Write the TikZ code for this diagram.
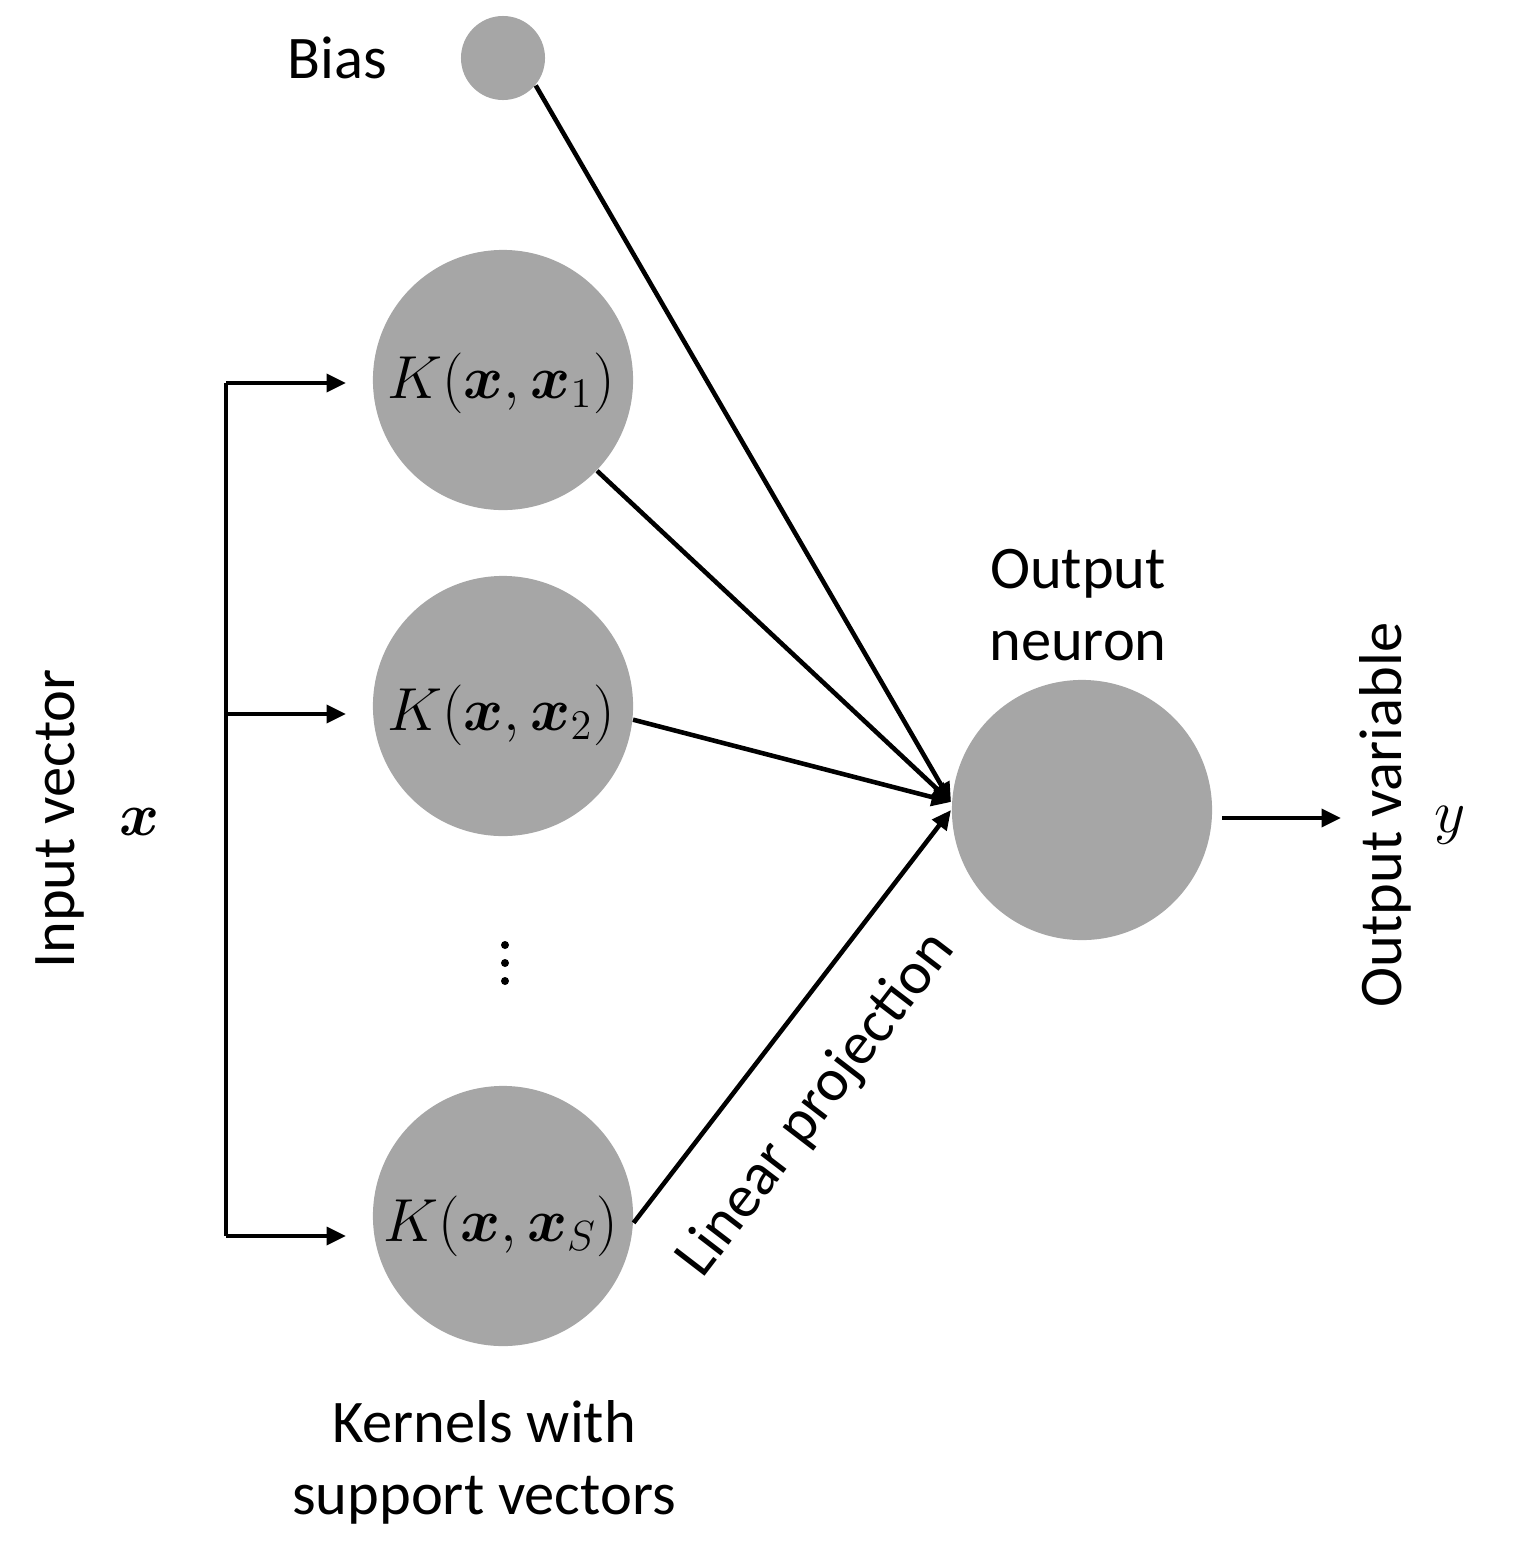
\documentclass[tikz,border=0pt]{standalone}
\usepackage{amsmath,bm}
\usepackage{fontspec}
\setmainfont{Carlito}
\usetikzlibrary{arrows.meta}
\definecolor{nodegray}{HTML}{A6A6A6}
\begin{document}
\begin{tikzpicture}[x=0.01cm,y=-0.01cm,
  neuron/.style={circle,fill=nodegray,draw=none,inner sep=0pt},
  big/.style={neuron,minimum size=2.6cm},
  small/.style={neuron,minimum size=0.84cm},
  conn/.style={line width=1.3pt},
  arr/.style={conn,-{Triangle[length=5.5pt,width=5pt]}},
  lbl/.style={font=\fontsize{17.2}{20.5}\selectfont,align=center,inner sep=0pt},
  mlbl/.style={font=\fontsize{17}{21}\selectfont,inner sep=0pt},
  dot/.style={circle,fill=black,inner sep=0pt,minimum size=0.08cm}
]
\useasboundingbox (0,0) rectangle (1540,1566);

% nodes
\node[small] (bias) at (503,58) {};
\node[big] (k1) at (503,380) {};
\node[big] (k2) at (503,706) {};
\node[big] (ks) at (503,1216) {};
\node[big] (out) at (1082,810) {};

\node[mlbl] (k1t) at (501,383) {$K(\bm{x},\bm{x}_1)$};
\node[mlbl] (k2t) at (501,715) {$K(\bm{x},\bm{x}_2)$};
\node[mlbl] (kst) at (501,1226) {$K(\bm{x},\bm{x}_S)$};

\node[dot] (d1) at (505,945) {};
\node[dot] (d2) at (505,963) {};
\node[dot] (d3) at (505,981) {};

% labels
\node[lbl] (biasl) at (337,58) {Bias};
\node[lbl] (outl) at (1078,605) {Output\\neuron};
\node[lbl] (kerl) at (484,1462) {Kernels with\\support vectors};
\node[lbl,rotate=90] (inl) at (60,819) {Input vector};
\node[mlbl] (xl) at (140,822) {$\bm{x}$};
\node[lbl,rotate=90] (outvl) at (1385,815) {Output variable};
\node[mlbl] (yl) at (1450,825) {$y$};
\node[lbl,rotate=52.5] (linl) at (817,1105) {Linear projection};

% input bracket
\coordinate (b1) at (226,383);
\coordinate (b2) at (226,714);
\coordinate (b3) at (226,1236);
\coordinate (t1) at (346,383);
\coordinate (t2) at (346,714);
\coordinate (t3) at (346,1236);
\draw[conn] (b1) -- (b3);
\draw[arr] (b1) -- (t1);
\draw[arr] (b2) -- (t2);
\draw[arr] (b3) -- (t3);

% connections to output
\coordinate (hub) at (951,802);
\coordinate (hubl) at (951,810);
\draw[arr] (bias.-40) -- (hub);
\draw[arr] (k1.-44) -- (hub);
\draw[arr] (k2.-6) -- (hub);
\draw[arr] (ks.-3) -- (hubl);

% output arrow
\coordinate (yend) at (1341,818);
\coordinate (ystart) at (1222,818);
\draw[arr] (ystart) -- (yend);
\end{tikzpicture}
\end{document}
